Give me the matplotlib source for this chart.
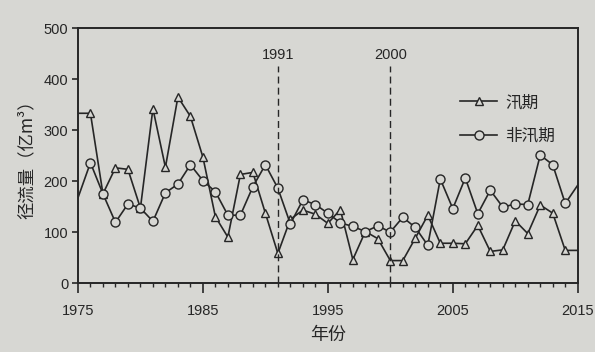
import matplotlib
matplotlib.use("Agg")
import matplotlib.pyplot as plt
from matplotlib.ticker import MultipleLocator

years = list(range(1975, 2016))
flood = [333, 333, 175, 226, 223, 147, 342, 227, 365, 327, 247, 130, 90, 213,
         217, 137, 58, 125, 143, 135, 117, 144, 46, 101, 87, 44, 44, 88, 133,
         78, 78, 77, 113, 62, 65, 122, 97, 153, 137, 64, 64]
nonflood = [167, 236, 175, 119, 155, 147, 121, 177, 194, 232, 201, 179, 133,
            133, 189, 232, 186, 116, 163, 154, 137, 118, 111, 101, 112, 100,
            129, 109, 74, 204, 146, 206, 136, 182, 149, 155, 154, 251, 232,
            156, 192]
labels = ["汛期", "非汛期"]
mark_years = [1991, 2000]
xticks = [1975, 1985, 1995, 2005, 2015]
yticks = [0, 100, 200, 300, 400, 500]

bg = "#d7d7d3"
ink = "#262626"
cjk = ["Noto Sans CJK SC", "DejaVu Sans"]
num = ["Liberation Sans", "DejaVu Sans"]

fig = plt.figure(figsize=(5.95, 3.52), dpi=100, facecolor=bg)
ax = fig.add_axes([0.131, 0.196, 0.84, 0.724], facecolor=bg)

ax.plot(years, flood, color=ink, lw=1.2, marker="^", ms=6, mfc=bg,
        mec=ink, mew=1.0, markevery=slice(1, -1), label=labels[0])
ax.plot(years, nonflood, color=ink, lw=1.2, marker="o", ms=6.5, mfc=bg,
        mec=ink, mew=1.0, markevery=slice(1, -1), label=labels[1])

for yr in mark_years:
    ax.plot([yr, yr], [0, 425], color=ink, lw=1.0, ls=(0, (5, 3)))
    ax.text(yr, 448, str(yr), ha="center", va="center", fontsize=10.5,
            family=num, color=ink)

ax.set_xlim(1975, 2015)
ax.set_ylim(0, 500)
ax.set_xticks(xticks)
ax.set_yticks(yticks)
ax.xaxis.set_minor_locator(MultipleLocator(1))
ax.tick_params(axis="x", which="major", direction="out", length=7, width=1.2,
               color=ink, pad=8)
ax.tick_params(axis="x", which="minor", direction="out", length=3, width=1.0,
               color=ink)
ax.tick_params(axis="y", which="major", direction="out", length=4, width=1.2,
               color=ink, pad=3)
for lab in ax.get_xticklabels() + ax.get_yticklabels():
    lab.set_family(num)
    lab.set_fontsize(10.5)
    lab.set_color(ink)
for sp in ax.spines.values():
    sp.set_color(ink)
    sp.set_linewidth(1.4)

ax.set_xlabel("年份", family=cjk, fontsize=13, color=ink, labelpad=6)
ax.set_ylabel("径流量（亿m³）", family=cjk, fontsize=12.5, color=ink,
              labelpad=6)

leg = ax.legend(loc="upper right", bbox_to_anchor=(0.985, 0.80),
                frameon=False, prop={"family": cjk, "size": 12},
                handlelength=2.2, handletextpad=0.5, labelspacing=1.0)
for t in leg.get_texts():
    t.set_color(ink)

fig.savefig("out.png", dpi=100, facecolor=bg)
